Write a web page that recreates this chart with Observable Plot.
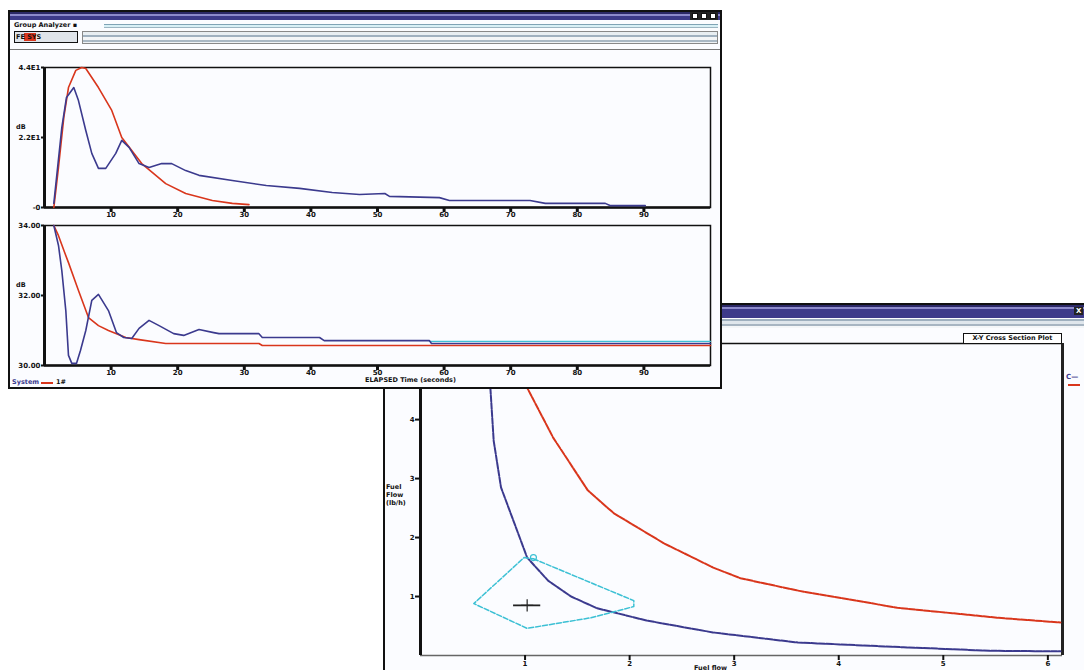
<!DOCTYPE html>
<html><head><meta charset="utf-8">
<script src="https://cdn.jsdelivr.net/npm/d3@7"></script>
<script src="https://cdn.jsdelivr.net/npm/@observablehq/plot@0.6"></script>
<style>
body{margin:0;width:1084px;height:670px;overflow:hidden;background:#fff;position:relative;font-family:"DejaVu Sans",sans-serif;}
.abs{position:absolute;}
.win{position:absolute;box-sizing:border-box;background:#fbfcff;}
.tbar{position:absolute;background:linear-gradient(#2b2866 0,#2b2866 2px,#8d8acb 2px,#8d8acb 4px,#3d3a8a 4px,#3d3a8a 100%);}
.tiny{position:absolute;font-size:7px;font-weight:bold;color:#111;white-space:nowrap;line-height:8px;}
</style></head><body>
<script>
// ---------- Window 1, top panel (level vs elapsed time) ----------
const xTicks = [10,20,30,40,50,60,70,80,90];
const xTickLabels = ["10","20","30","40","50","60","70","80","90"];
const yTopTicks = [0,22,44];
const yTopLabels = ["-0","2.2E1","4.4E1"];
const blueTopX = [1.4,2.6,3.3,4.4,5.1,6.2,7.1,8.1,9.2,10.7,11.6,12.7,14.2,15.7,17.6,19.1,21.2,23.2,28.2,33.3,38.3,43.2,47.3,51.1,51.8,59.3,60.8,72.9,75.2,84.2,84.9,90.2];
const blueTopY = [1.3,25.1,34.6,37.7,33.6,24.2,17.0,12.3,12.3,17.0,21.1,18.9,13.8,12.6,13.8,13.8,11.6,10.1,8.5,6.9,6.0,4.7,4.1,4.4,3.5,3.1,2.2,2.2,1.3,1.3,0.6,0.6];
const redTopX = [1.4,1.7,2.1,2.9,3.6,4.7,5.6,6.2,8.1,10.1,11.6,14.6,18.2,21.2,25.2,28.2,30.7];
const redTopY = [0,5.3,12.6,28.3,37.7,43.1,44,43.7,37.7,30.5,22.0,13.8,7.5,4.4,2.2,1.3,0.9];

// ---------- Window 1, lower panel ----------
const yLowTicks = [30,32,34];
const yLowLabels = ["30.00","32.00","34.00"];
const blueLowX = [1.4,2.1,2.6,3.2,3.6,4.1,4.8,5.4,6.2,7.1,8.1,9.6,10.8,11.9,13.1,14.2,15.7,17.2,19.4,20.9,23.2,25.4,26.2,32.2,32.7,41.3,42.0,57.8,58.1,100];
const blueLowY = [34.0,33.43,32.71,31.57,30.29,30.06,30.06,30.43,31.0,31.86,32.03,31.57,30.94,30.8,30.77,31.06,31.29,31.14,30.91,30.86,31.03,30.94,30.91,30.91,30.8,30.8,30.71,30.71,30.63,30.63];
const redLowX = [1.4,2.1,2.9,3.6,5.1,6.6,8.1,9.6,12.2,14.2,18.2,32.2,32.7,100];
const redLowY = [34.0,33.71,33.29,32.94,32.14,31.37,31.14,31.0,30.8,30.74,30.63,30.63,30.57,30.57];
const cyanLowX = [57.8,100];
const cyanLowY = [30.69,30.69];

// ---------- Window 2, X-Y cross plot ----------
const fxTicks = [1,2,3,4,5,6];
const fxTickLabels = ["1","2","3","4","5","6"];
const fyTicks = [1,2,3,4];
const fyTickLabels = ["1","2","3","4"];
const blueFX = [0.64,0.67,0.70,0.77,1.02,1.22,1.44,1.69,2.17,2.80,3.61,4.62,5.45,6.12];
const blueFY = [5.17,4.49,3.64,2.85,1.66,1.27,1.00,0.80,0.59,0.39,0.22,0.14,0.08,0.07];
const redFX = [0.99,1.02,1.27,1.60,1.85,2.33,2.80,3.06,3.61,4.56,5.52,6.12];
const redFY = [5.25,4.54,3.69,2.80,2.41,1.90,1.49,1.31,1.10,0.81,0.64,0.56];
const cyanFX = [1.08,2.04,2.04,1.63,1.02,0.51,0.99,1.08];
const cyanFY = [1.64,0.93,0.83,0.64,0.46,0.88,1.66,1.64];
const circleFX = [1.08], circleFY = [1.66];
const plusFX = [1.02], plusFY = [0.85];

const BLUE = "#3b3a8e", RED = "#d9361c", CYAN = "#3cc0d4";
const zip = (xs, ys) => xs.map((x, i) => ({x, y: ys[i]}));
const lab = (ticks, labels) => d => labels[ticks.indexOf(d)];

function place(svg, left, top, z) {
  svg.style.position = "absolute";
  svg.style.left = left + "px";
  svg.style.top = top + "px";
  svg.style.zIndex = z;
  document.body.appendChild(svg);
}
function div(cls, css, txt) {
  const d = document.createElement("div");
  d.className = cls;
  d.style.cssText = css;
  if (txt) d.textContent = txt;
  document.body.appendChild(d);
  return d;
}
const baseStyle = {background:"transparent", overflow:"visible", fontFamily:"DejaVu Sans", fontSize:"7px", fontWeight:"bold", color:"#111"};

// ===== Window 2 (behind) =====
div("win", "left:383px;top:303px;width:760px;height:420px;border-left:2px solid #111;border-top:2px solid #111;z-index:1;");
div("tbar", "left:385px;top:305px;width:700px;height:13px;z-index:2;");
div("abs", "left:385px;top:319px;width:700px;height:9px;background:linear-gradient(#9fb0bf 0,#9fb0bf 2px,#dfe6ec 2px,#dfe6ec 5px,#a7b5c2 5px,#a7b5c2 7px,#f4f6f8 7px);z-index:2;");
div("tiny", "left:1074px;top:307px;color:#fff;background:#222;padding:0 2px;z-index:3;", "X");
div("tiny", "left:963px;top:333px;width:97px;height:9px;border:1px solid #111;background:#fff;z-index:4;text-align:center;font-size:6.5px;", "X-Y Cross Section Plot");
div("tiny", "left:1066px;top:373px;color:#3b3a8e;z-index:3;", "C—");
div("abs", "left:1068px;top:384px;width:12px;height:2px;background:#d9361c;z-index:3;");
const yl2 = div("tiny", "left:386px;top:483px;z-index:3;line-height:8px;font-size:6.5px;", "");
yl2.innerHTML = "Fuel<br>Flow<br>(lb/h)";
div("tiny", "left:694px;top:664px;z-index:3;font-size:6.5px;", "Fuel flow");

const p2 = Plot.plot({
  width: 683, height: 340, marginLeft: 35, marginTop: 10, marginRight: 6, marginBottom: 18,
  x: {domain: [0, 6.14]}, y: {domain: [0, 5.29]},
  style: baseStyle,
  marks: [
    Plot.ruleY([5.29], {stroke: "#111", strokeWidth: 1.5}),
    Plot.ruleY([0], {stroke: "#666", strokeWidth: 1.5}),
    Plot.ruleX([0], {stroke: "#111", strokeWidth: 3}),
    Plot.ruleX([6.14], {stroke: "#222", strokeWidth: 3}),
    Plot.axisX({ticks: fxTicks, tickFormat: lab(fxTicks, fxTickLabels), tickSize: 5, tickPadding: 1, strokeWidth: 2, label: null}),
    Plot.axisY({ticks: fyTicks, tickFormat: lab(fyTicks, fyTickLabels), tickSize: 5, tickPadding: 1, strokeWidth: 2, label: null}),
    Plot.line(zip(redFX, redFY), {x: "x", y: "y", stroke: RED, strokeWidth: 2, strokeDasharray: "6 1.5"}),
    Plot.line(zip(blueFX, blueFY), {x: "x", y: "y", stroke: BLUE, strokeWidth: 2, strokeDasharray: "6 1.5"}),
    Plot.line(zip(cyanFX, cyanFY), {x: "x", y: "y", stroke: CYAN, strokeWidth: 1.5, strokeDasharray: "5 2"}),
    Plot.dot(zip(circleFX, circleFY), {x: "x", y: "y", r: 3, stroke: CYAN, strokeWidth: 1.2}),
    Plot.dot(zip(plusFX, plusFY), {x: "x", y: "y", symbol: "plus", r: 4, stroke: "#222", strokeWidth: 1.2}),
    Plot.ruleY(zip(plusFX, plusFY), {y: "y", x1: d => d.x - 0.13, x2: d => d.x + 0.13, stroke: "#222", strokeWidth: 1.8})
  ]
});
place(p2, 385, 333, 2);

// ===== Window 1 (front) =====
div("win", "left:8px;top:10px;width:714px;height:379px;border:2px solid #111;z-index:10;");
div("tbar", "left:10px;top:12px;width:710px;height:8px;z-index:11;");
div("abs", "left:690px;top:12px;width:28px;height:8px;background:#222;z-index:12;");
for (let i = 0; i < 3; i++) div("abs", `left:${692 + i * 9}px;top:13px;width:6px;height:6px;background:#fff;border:1px solid #111;box-sizing:border-box;z-index:13;`);
div("tiny", "left:14px;top:21px;z-index:12;font-size:6.5px;", "Group Analyzer ▪");
div("abs", "left:104px;top:24px;width:614px;height:4px;background:linear-gradient(#7fa3b5 0,#7fa3b5 1px,#d8f0f6 1px,#d8f0f6 3px,#9cb5c2 3px);z-index:12;");
div("abs", "left:14px;top:31px;width:64px;height:12px;border:1px solid #111;background:#dfe4ea;z-index:12;box-sizing:border-box;");
div("abs", "left:24px;top:33px;width:12px;height:8px;background:#d9361c;z-index:13;");
div("tiny", "left:16px;top:33px;z-index:14;font-size:6.5px;", "FE  SYS");
div("abs", "left:82px;top:31px;width:636px;height:13px;border:1px solid #888;background:linear-gradient(#e8eef2 0,#e8eef2 3px,#9fb0bf 3px,#9fb0bf 5px,#f3f5f7 5px,#f3f5f7 8px,#a9b8c4 8px,#a9b8c4 10px,#eef2f5 10px);z-index:12;box-sizing:border-box;");
div("abs", "left:10px;top:49px;width:710px;height:1px;background:#777;z-index:12;");
div("tiny", "left:12px;top:378px;z-index:12;color:#3b3a8e;font-size:6.5px;", "System");
div("abs", "left:41px;top:382px;width:12px;height:2px;background:#d9361c;z-index:12;");
div("tiny", "left:56px;top:378px;z-index:12;font-size:6.5px;", "1#");
div("tiny", "left:365px;top:376px;z-index:12;font-size:6.5px;", "ELAPSED Time (seconds)");
div("tiny", "left:16px;top:123px;z-index:12;font-size:6.5px;", "dB");
div("tiny", "left:16px;top:281px;z-index:12;font-size:6.5px;", "dB");

function panel(top, yDomain, yTicks, yLabels, marks) {
  const svg = Plot.plot({
    width: 706, height: 163, marginLeft: 36, marginTop: 9, marginRight: 4, marginBottom: 14,
    x: {domain: [0, 100]}, y: {domain: yDomain},
    style: baseStyle,
    marks: [
      Plot.frame({stroke: "#111", strokeWidth: 1.5}),
      Plot.ruleX([0], {stroke: "#111", strokeWidth: 3}),
      Plot.ruleY([yDomain[0]], {stroke: "#111", strokeWidth: 2.5}),
      Plot.axisX({ticks: xTicks, tickFormat: lab(xTicks, xTickLabels), tickSize: 5, tickPadding: 0, strokeWidth: 3, label: null}),
      Plot.axisY({ticks: yTicks, tickFormat: lab(yTicks, yLabels), tickSize: 3, tickPadding: 1, strokeWidth: 2, label: null}),
      ...marks
    ]
  });
  place(svg, 8, top, 12);
}
panel(58, [0, 44], yTopTicks, yTopLabels, [
  Plot.line(zip(redTopX, redTopY), {x: "x", y: "y", stroke: RED, strokeWidth: 1.6}),
  Plot.line(zip(blueTopX, blueTopY), {x: "x", y: "y", stroke: BLUE, strokeWidth: 1.6})
]);
panel(216, [30, 34], yLowTicks, yLowLabels, [
  Plot.line(zip(redLowX, redLowY), {x: "x", y: "y", stroke: RED, strokeWidth: 1.6}),
  Plot.line(zip(cyanLowX, cyanLowY), {x: "x", y: "y", stroke: CYAN, strokeWidth: 1.4}),
  Plot.line(zip(blueLowX, blueLowY), {x: "x", y: "y", stroke: BLUE, strokeWidth: 1.6})
]);
</script>
</body></html>
